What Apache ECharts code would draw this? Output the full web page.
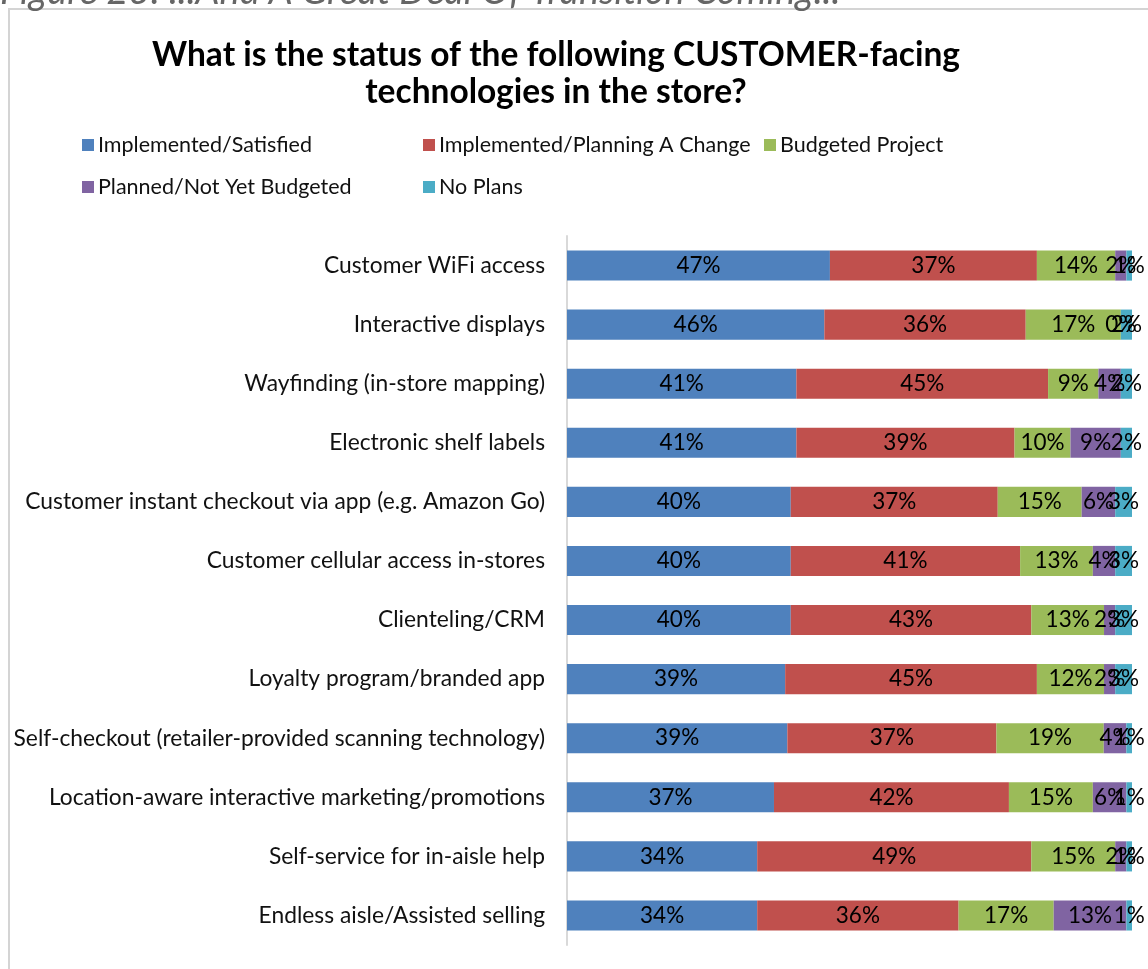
<!DOCTYPE html>
<html>
<head>
<meta charset="utf-8">
<script src="https://cdn.jsdelivr.net/npm/echarts@6/dist/echarts.min.js"></script>
<style>
html,body{margin:0;padding:0;background:#fff;}
#chart{width:1148px;height:969px;}
</style>
</head>
<body>
<div id="chart"></div>
<script>
const categories = [
  "Customer WiFi access",
  "Interactive displays",
  "Wayfinding (in-store mapping)",
  "Electronic shelf labels",
  "Customer instant checkout via app (e.g. Amazon Go)",
  "Customer cellular access in-stores",
  "Clienteling/CRM",
  "Loyalty program/branded app",
  "Self-checkout (retailer-provided scanning technology)",
  "Location-aware interactive marketing/promotions",
  "Self-service for in-aisle help",
  "Endless aisle/Assisted selling"
];
const seriesNames = ["Implemented/Satisfied","Implemented/Planning A Change","Budgeted Project","Planned/Not Yet Budgeted","No Plans"];
const implementedSatisfied = [47,46,41,41,40,40,40,39,39,37,34,34];
const implementedPlanningChange = [37,36,45,39,37,41,43,45,37,42,49,36];
const budgetedProject = [14,17,9,10,15,13,13,12,19,15,15,17];
const plannedNotBudgeted = [2,0,4,9,6,4,2,2,4,6,2,13];
const noPlans = [1,2,2,2,3,3,3,3,1,1,1,1];
const colors = ["#4F81BD","#C0504D","#9BBB59","#8064A2","#4BACC6"];

const raw = [implementedSatisfied, implementedPlanningChange, budgetedProject, plannedNotBudgeted, noPlans];
const totals = categories.map((c,i)=>raw.reduce((s,a)=>s+a[i],0));
const FONT = "Lato, 'DejaVu Sans', sans-serif";

const series = raw.map((arr, si) => ({
  name: seriesNames[si],
  type: 'bar',
  stack: 'all',
  barWidth: '51%',
  itemStyle: { color: colors[si] },
  data: arr.map((v,i)=>({ value: v / totals[i] * 100, raw: v })),
  label: {
    show: true,
    position: 'inside',
    color: '#000',
    fontFamily: FONT,
    fontSize: 22.5,
    formatter: p => p.data.raw + '%'
  },
  emphasis: { disabled: true }
}));

const legendPos = [
  {left: 82, top: 134},
  {left: 423, top: 134},
  {left: 764, top: 134},
  {left: 82, top: 176},
  {left: 423, top: 176}
];
const legends = seriesNames.map((n,i)=>({
  data: [n],
  left: legendPos[i].left,
  top: legendPos[i].top,
  icon: 'rect',
  itemWidth: 12,
  itemHeight: 12,
  itemGap: 0,
  padding: 0,
  selectedMode: false,
  textStyle: { fontFamily: FONT, fontSize: 21.5, color: '#111', padding: [0,0,0,-1] }
}));

const chart = echarts.init(document.getElementById('chart'), null, {renderer: 'canvas'});
chart.setOption({
  animation: false,
  title: {
    text: "What is the status of the following CUSTOMER-facing\ntechnologies in the store?",
    left: 551,
    top: 32,
    textAlign: 'center',
    textStyle: { fontFamily: FONT, fontSize: 33.5, fontWeight: 'bold', color: '#000', lineHeight: 37 }
  },
  graphic: [
    { type: 'rect', shape: {x: 9, y: 9, width: 1200, height: 1000}, style: {fill: 'none', stroke: '#d4d4d4', lineWidth: 2}, silent: true },
    { type: 'text', left: 0, top: -27, style: { text: 'Figure 23: ...And A Great Deal Of Transition Coming...', font: 'italic 38px ' + FONT, fill: '#666' }, silent: true }
  ],
  legend: legends,
  grid: { left: 567, right: 16, top: 236, bottom: 24, containLabel: false },
  xAxis: { type: 'value', min: 0, max: 100, show: false },
  yAxis: {
    type: 'category',
    data: categories,
    inverse: true,
    axisLine: { show: true, lineStyle: { color: '#d9d9d9', width: 2 } },
    axisTick: { show: false },
    axisLabel: { margin: 22, fontFamily: FONT, fontSize: 22.8, color: '#111' }
  },
  series: series
});
</script>
</body>
</html>
